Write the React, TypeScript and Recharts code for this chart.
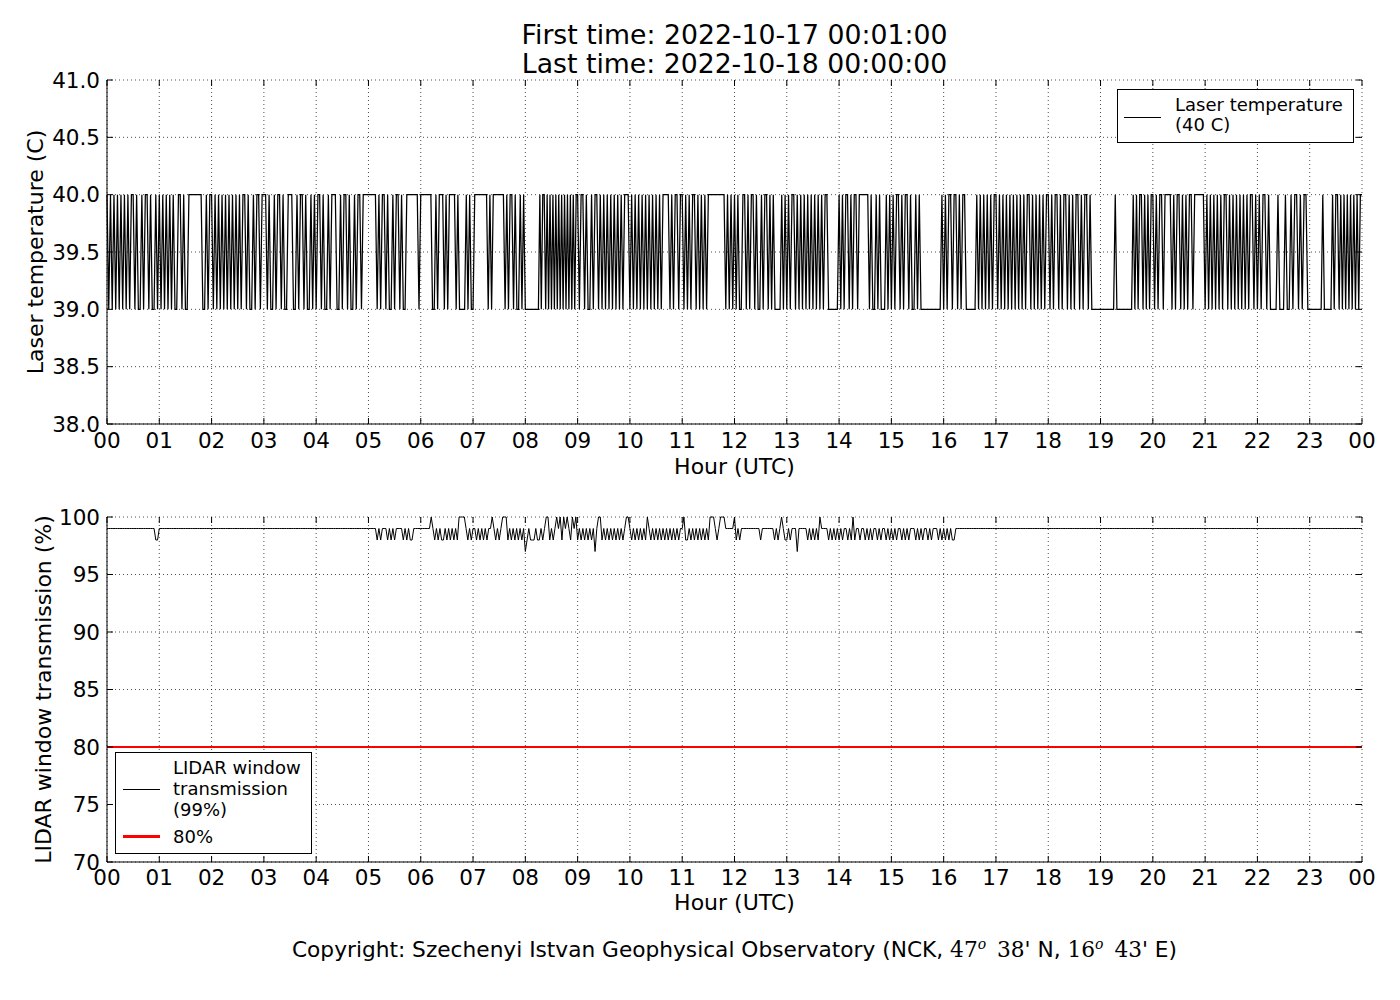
import React from 'react'
import { LineChart, Line, XAxis, YAxis, CartesianGrid, ReferenceLine, Legend } from 'recharts'

const FONT = '"DejaVu Sans", sans-serif'
const PLOT_LEFT = 107
const PLOT_RIGHT = 1362

const HOUR_TICKS = [0, 1, 2, 3, 4, 5, 6, 7, 8, 9, 10, 11, 12, 13, 14, 15, 16, 17, 18, 19, 20, 21, 22, 23, 24]
const TEMP_TICKS = [38, 38.5, 39, 39.5, 40, 40.5, 41]
const TRANS_TICKS = [70, 75, 80, 85, 90, 95, 100]
const TRANS_LIMIT = 80

// laser temperature, one char per ~2 minutes of each hour: 1 = 40 C, 0 = 39 C
const TEMP_HOURS = [
  '101010101010101101001011010010',
  '101010101001101001111111100101',
  '101010101010101010110100101101',
  '110100101101001110010110100101',
  '011010010111001011010010110111',
  '111110101101001011010011111110',
  '1111111001011101011110100001010',
  '0111111110101111111010110100101',
  '000000000010110101010101010101010101',
  '101101001011010101010101010111',
  '010101010101010101011110101101',
  '101010110101010111111111101010',
  '1010011010110100101101010000101',
  '010110101010101010101011000000',
  '1010110101101111110100101000101',
  '010110101101001010000000000001',
  '010110110101100000010101010101',
  '101010101010101010110101010101',
  '101011010110101011010110100000',
  '00000000010000000000101011010101',
  '101011011110101101010110111111',
  '010101010101101010101010101101',
  '0101101000010001001011010110',
  '00000000100000101101010101010101',
]

// window transmission, one char per 2 minutes: 0 = 100 %, 9 = 99 %, 8 = 98 %, 7 = 97 %
const TRANS_HOURS = [
  '999999999999999999999999999988',
  '999999999999999999999999999999',
  '999999999999999999999999999999',
  '999999999999999999999999999999',
  '999999999999999999999999999999',
  '999998989998989899998989889999',
  '999999098989889898989800009898',
  '998989898990989890008989898989',
  '789888988989008989090809098090',
  '898989898979008989898989898900',
  '989898989809898989898989898989',
  '908898989898989800098900099999',
  '089899999999999899999998989098',
  '898999799999898989809999898989',
  '898998980899899898989989899898',
  '989899898989998989899898999898',
  '989898899999999999999999999999',
  '999999999999999999999999999999',
  '999999999999999999999999999999',
  '999999999999999999999999999999',
  '999999999999999999999999999999',
  '999999999999999999999999999999',
  '999999999999999999999999999999',
  '999999999999999999999999999999',
]

const TEMP_LEVEL: Record<string, number> = { '1': 40, '0': 39 }
const TRANS_LEVEL: Record<string, number> = { '0': 100, '9': 99, '8': 98, '7': 97 }

function buildSeries(hours: string[], level: Record<string, number>) {
  const pts: { x: number; v: number }[] = []
  hours.forEach((s, h) => {
    for (let i = 0; i < s.length; i++) pts.push({ x: h + i / s.length, v: level[s[i]] })
  })
  pts.push({ x: 24, v: pts[pts.length - 1].v })
  return pts
}

const tempData = buildSeries(TEMP_HOURS, TEMP_LEVEL)
const transData = buildSeries(TRANS_HOURS, TRANS_LEVEL)

const hourLabel = (h: number) => String(h % 24).padStart(2, '0')

const xTick = (top: number, bottom: number, dy: number) => (p: any) => (
  <g>
    <line x1={p.x} x2={p.x} y1={bottom} y2={bottom - 6} stroke="#000" />
    <line x1={p.x} x2={p.x} y1={top} y2={top + 6} stroke="#000" />
    <text x={p.x} y={bottom + dy} textAnchor="middle" fontSize={21.5} fontFamily={FONT} fill="#000">
      {hourLabel(p.payload.value)}
    </text>
  </g>
)

const yTick = (fmt: (v: number) => string) => (p: any) => (
  <g>
    <line x1={PLOT_LEFT} x2={PLOT_LEFT + 6} y1={p.y} y2={p.y} stroke="#000" />
    <line x1={PLOT_RIGHT - 6} x2={PLOT_RIGHT} y1={p.y} y2={p.y} stroke="#000" />
    <text x={PLOT_LEFT - 7} y={p.y + 7.7} textAnchor="end" fontSize={21.5} fontFamily={FONT} fill="#000">
      {fmt(p.payload.value)}
    </text>
  </g>
)

const xLabel = (dy: number) => (p: any) => {
  const vb = p.viewBox
  return (
    <text x={vb.x + vb.width / 2} y={vb.y + dy} textAnchor="middle" fontSize={22} fontFamily={FONT} fill="#000">
      Hour (UTC)
    </text>
  )
}

const yLabel = (text: string, dx: number) => (p: any) => {
  const vb = p.viewBox
  const cx = vb.x + vb.width - dx
  const cy = vb.y + vb.height / 2
  return (
    <text x={cx} y={cy} transform={`rotate(-90, ${cx}, ${cy})`} textAnchor="middle" dominantBaseline="central"
      fontSize={22} fontFamily={FONT} fill="#000">
      {text}
    </text>
  )
}

const boxStyle: React.CSSProperties = {
  position: 'relative', boxSizing: 'border-box', border: '1px solid #000', background: '#fff',
  fontFamily: FONT, fontSize: 18, color: '#000', width: '100%', height: '100%',
}

function TempLegend() {
  return (
    <div style={boxStyle}>
      <div style={{ position: 'absolute', left: 6, top: 27, width: 37, height: 1, background: '#000' }} />
      <div style={{ position: 'absolute', left: 57, top: 5, lineHeight: '20px', whiteSpace: 'nowrap' }}>
        Laser temperature<br />(40 C)
      </div>
    </div>
  )
}

function TransLegend() {
  return (
    <div style={boxStyle}>
      <div style={{ position: 'absolute', left: 7, top: 36, width: 37, height: 1, background: '#000' }} />
      <div style={{ position: 'absolute', left: 57, top: 4, lineHeight: '21px', whiteSpace: 'nowrap' }}>
        LIDAR window<br />transmission<br />(99%)
      </div>
      <div style={{ position: 'absolute', left: 7, top: 82, width: 37, height: 2.5, background: '#ff0000' }} />
      <div style={{ position: 'absolute', left: 57, top: 73, lineHeight: '21px' }}>80%</div>
    </div>
  )
}

const gridProps = { stroke: '#000', strokeDasharray: '1 3', strokeWidth: 0.7 }
const supStyle: React.CSSProperties = { position: 'relative', top: -8, fontSize: 14, fontStyle: 'italic' }

export default function App() {
  return (
    <div style={{ position: 'absolute', left: 0, top: 0, width: 1400, height: 1000, background: '#fff', fontFamily: FONT }}>
      <div style={{ position: 'absolute', left: PLOT_LEFT, width: PLOT_RIGHT - PLOT_LEFT, top: 20, textAlign: 'center', fontSize: 26.7, lineHeight: '29px', color: '#000' }}>
        First time: 2022-10-17 00:01:00<br />Last time: 2022-10-18 00:00:00
      </div>

      <div style={{ position: 'absolute', left: 0, top: 0 }}>
        <LineChart width={1400} height={480} data={tempData} margin={{ top: 80, right: 38, bottom: 16, left: 27 }}>
          <CartesianGrid {...gridProps} />
          <XAxis dataKey="x" type="number" domain={[0, 24]} ticks={HOUR_TICKS} height={40} interval={0}
            axisLine={{ stroke: '#000' }} tickLine={false} tick={xTick(80, 424, 24)} label={{ content: xLabel(50) }} />
          <XAxis xAxisId="top" orientation="top" type="number" domain={[0, 24]} height={0} tick={false} tickLine={false} axisLine={{ stroke: '#000' }} />
          <YAxis type="number" domain={[38, 41]} ticks={TEMP_TICKS} width={80} interval={0}
            axisLine={{ stroke: '#000' }} tickLine={false} tick={yTick(v => v.toFixed(1))}
            label={{ content: yLabel('Laser temperature (C)', 72) }} />
          <YAxis yAxisId="right" orientation="right" type="number" domain={[38, 41]} width={0} tick={false} tickLine={false} axisLine={{ stroke: '#000' }} />
          <Line type="linear" dataKey="v" stroke="#000" strokeWidth={1.25} dot={false} isAnimationActive={false} />
          <Legend verticalAlign="middle" align="center" layout="horizontal"
            wrapperStyle={{ left: 1117, top: 89, width: 237, height: 54 }} content={() => <TempLegend />} />
        </LineChart>
      </div>

      <div style={{ position: 'absolute', left: 0, top: 440 }}>
        <LineChart width={1400} height={500} data={transData} margin={{ top: 77, right: 38, bottom: 38, left: 27 }}>
          <CartesianGrid {...gridProps} />
          <XAxis dataKey="x" type="number" domain={[0, 24]} ticks={HOUR_TICKS} height={40} interval={0}
            axisLine={{ stroke: '#000' }} tickLine={false} tick={xTick(77, 422, 23)} label={{ content: xLabel(48) }} />
          <XAxis xAxisId="top" orientation="top" type="number" domain={[0, 24]} height={0} tick={false} tickLine={false} axisLine={{ stroke: '#000' }} />
          <YAxis type="number" domain={[70, 100]} ticks={TRANS_TICKS} width={80} interval={0}
            axisLine={{ stroke: '#000' }} tickLine={false} tick={yTick(v => String(v))}
            label={{ content: yLabel('LIDAR window transmission (%)', 64) }} />
          <YAxis yAxisId="right" orientation="right" type="number" domain={[70, 100]} width={0} tick={false} tickLine={false} axisLine={{ stroke: '#000' }} />
          <ReferenceLine y={TRANS_LIMIT} stroke="#ff0000" strokeWidth={2} />
          <Line type="linear" dataKey="v" stroke="#000" strokeWidth={1} dot={false} isAnimationActive={false} />
          <Legend verticalAlign="middle" align="center" layout="horizontal"
            wrapperStyle={{ left: 115, top: 312, width: 197, height: 102 }} content={() => <TransLegend />} />
        </LineChart>
      </div>

      <div style={{ position: 'absolute', left: PLOT_LEFT, width: PLOT_RIGHT - PLOT_LEFT, top: 937, textAlign: 'center', fontSize: 21.7, lineHeight: '26px', color: '#000', whiteSpace: 'nowrap' }}>
        Copyright: Szechenyi Istvan Geophysical Observatory (NCK,{' '}
        <span style={{ fontFamily: '"DejaVu Serif", serif' }}>47<span style={supStyle}>o</span>{'\u2002'}38</span>' N,{' '}
        <span style={{ fontFamily: '"DejaVu Serif", serif' }}>16<span style={supStyle}>o</span>{'\u2002'}43</span>' E)
      </div>
    </div>
  )
}
